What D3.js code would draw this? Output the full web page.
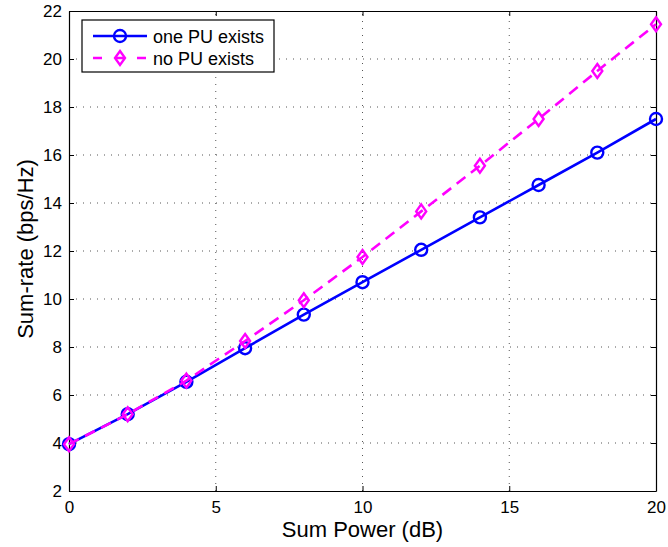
<!DOCTYPE html>
<html>
<head>
<meta charset="utf-8">
<script src="https://cdn.jsdelivr.net/npm/d3@7"></script>
<style>
  body { margin: 0; background: #fff; }
  text { font-family: "Liberation Sans", Arial, Helvetica, sans-serif; fill: #000; }
</style>
</head>
<body>
<div id="chart"></div>
<script>
// data
const sumPower = [0, 2, 4, 6, 8, 10, 12, 14, 16, 18, 20];
const onePU = [3.95, 5.2, 6.55, 7.95, 9.35, 10.7, 12.05, 13.4, 14.75, 16.1, 17.5];
const noPU = [3.95, 5.2, 6.6, 8.25, 9.95, 11.75, 13.65, 15.55, 17.5, 19.5, 21.45];
const xTicks = [0, 5, 10, 15, 20];
const yTicks = [2, 4, 6, 8, 10, 12, 14, 16, 18, 20, 22];
const seriesNames = ["one PU exists", "no PU exists"];

const width = 668, height = 547;
const margin = { left: 69, right: 12, top: 11, bottom: 56 };

var svg = d3.select("#chart").append("svg")
    .attr("width", width)
    .attr("height", height);

var x = d3.scaleLinear().domain([0, 20]).range([margin.left, width - margin.right]);
var y = d3.scaleLinear().domain([2, 22]).range([height - margin.bottom, margin.top]);

// dotted grid
var grid = svg.append("g").attr("stroke", "#555").attr("stroke-width", 1)
    .attr("stroke-dasharray", "1,6");
grid.selectAll(".gx").data(xTicks.slice(1, -1)).enter().append("line")
    .attr("x1", d => x(d)).attr("x2", d => x(d))
    .attr("y1", y(2)).attr("y2", y(22));
grid.selectAll(".gy").data(yTicks.slice(1, -1)).enter().append("line")
    .attr("y1", d => y(d)).attr("y2", d => y(d))
    .attr("x1", x(0)).attr("x2", x(20));

// axes with inward ticks, box on all four sides
var fs = 17;
svg.append("g").attr("transform", "translate(0," + y(2) + ")")
    .call(d3.axisBottom(x).tickValues(xTicks).tickSizeInner(-5).tickSizeOuter(0).tickPadding(8))
    .call(g => g.selectAll("text").attr("font-size", fs).attr("dy", "0.8em"));
svg.append("g").attr("transform", "translate(0," + y(22) + ")")
    .call(d3.axisTop(x).tickValues(xTicks).tickSizeInner(-5).tickSizeOuter(0).tickFormat(""));
svg.append("g").attr("transform", "translate(" + x(0) + ",0)")
    .call(d3.axisLeft(y).tickValues(yTicks).tickSizeInner(-5).tickSizeOuter(0).tickPadding(10))
    .call(g => g.selectAll("text").attr("font-size", fs).attr("x", -7));
svg.append("g").attr("transform", "translate(" + x(20) + ",0)")
    .call(d3.axisRight(y).tickValues(yTicks).tickSizeInner(-5).tickSizeOuter(0).tickFormat(""));
svg.selectAll(".domain").attr("stroke", "#000").attr("stroke-width", 1.2);
svg.selectAll(".tick line").attr("stroke", "#000");

// series
var line = d3.line().x(d => x(d[0])).y(d => y(d[1]));
var blue = "#0000ff", magenta = "#ff00ff";
var dataOne = sumPower.map((p, i) => [p, onePU[i]]);
var dataNo = sumPower.map((p, i) => [p, noPU[i]]);

svg.append("path").datum(dataOne).attr("d", line)
    .attr("fill", "none").attr("stroke", blue).attr("stroke-width", 2.6);
svg.selectAll(".m1").data(dataOne).enter().append("circle")
    .attr("cx", d => x(d[0])).attr("cy", d => y(d[1])).attr("r", 6)
    .attr("fill", "none").attr("stroke", blue).attr("stroke-width", 2.4);

var diamond = "M0,-7L5,0L0,7L-5,0Z";
svg.append("path").datum(dataNo).attr("d", line)
    .attr("fill", "none").attr("stroke", magenta).attr("stroke-width", 2.6)
    .attr("stroke-dasharray", "11,7");
svg.selectAll(".m2").data(dataNo).enter().append("path")
    .attr("d", diamond)
    .attr("transform", d => "translate(" + x(d[0]) + "," + y(d[1]) + ")")
    .attr("fill", "none").attr("stroke", magenta).attr("stroke-width", 2.4);

// axis labels
svg.append("text").attr("x", x(10)).attr("y", 537)
    .attr("text-anchor", "middle").attr("font-size", 22).text("Sum Power (dB)");
svg.append("text").attr("transform", "translate(33,249) rotate(-90)")
    .attr("text-anchor", "middle").attr("font-size", 22).text("Sum-rate (bps/Hz)");

// legend
var leg = svg.append("g");
leg.append("rect").attr("x", 82).attr("y", 20).attr("width", 192).attr("height", 52)
    .attr("fill", "#fff").attr("stroke", "#000").attr("stroke-width", 1.2);
var rows = [
  { name: seriesNames[0], color: blue, dash: null, ly: 36 },
  { name: seriesNames[1], color: magenta, dash: "11,7", ly: 58 }
];
rows.forEach(function(r, i) {
  leg.append("line").attr("x1", 93).attr("x2", 147).attr("y1", r.ly).attr("y2", r.ly)
      .attr("stroke", r.color).attr("stroke-width", 2.6)
      .attr("stroke-dasharray", r.dash ? "9,13" : null);
  if (i == 0) {
    leg.append("circle").attr("cx", 120).attr("cy", r.ly).attr("r", 6)
        .attr("fill", "none").attr("stroke", r.color).attr("stroke-width", 2.4);
  } else {
    leg.append("path").attr("d", diamond).attr("transform", "translate(120," + r.ly + ")")
        .attr("fill", "none").attr("stroke", r.color).attr("stroke-width", 2.4);
  }
  leg.append("text").attr("x", 153).attr("y", r.ly + 6.5).attr("font-size", 18).text(r.name);
});
</script>
</body>
</html>
